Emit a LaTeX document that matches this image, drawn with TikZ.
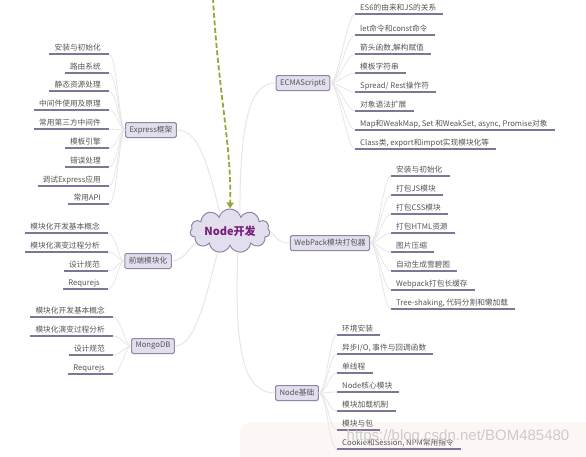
\documentclass[tikz,border=0pt]{standalone}
\usepackage{fontspec}
\setmainfont{Noto Sans CJK SC}
\newfontfamily\wmfont{Liberation Sans}
\usetikzlibrary{shapes.symbols,arrows.meta}
\definecolor{boxfill}{HTML}{E3DEEE}
\definecolor{boxline}{HTML}{8E86A6}
\definecolor{ulcol}{HTML}{7C7794}
\definecolor{txt}{HTML}{555555}
\definecolor{conn}{HTML}{EAE5E5}
\definecolor{arrowgreen}{HTML}{8FAA38}
\definecolor{nodepurple}{HTML}{76207A}
\definecolor{pinkbg}{HTML}{FCF6F5}

\newcommand{\LeafL}[5]{%
  \node[leafL] (#2) at (#3,#4) {#5};
  \draw[ul] ([xshift=-5pt]#2.south west) -- ([xshift=8pt]#2.south east);
  \draw[br] ([xshift=8pt]#2.south east) .. controls +(8,0) and +(-6,0) .. (#1.west);
}
\newcommand{\LeafR}[5]{%
  \node[leafR] (#2) at (#3,#4) {#5};
  \draw[ul] ([xshift=-5pt]#2.south west) -- ([xshift=7pt]#2.south east);
  \draw[br] (#1.east) .. controls +(8,0) and +(-8,0) .. ([xshift=-5pt]#2.south west);
}

\begin{document}
\begin{tikzpicture}[x=1pt,y=-1pt,
  font=\fontsize{7.7}{9}\selectfont,
  topic/.style={draw=boxline, fill=boxfill, line width=1pt, rounded corners=1.5pt,
    inner xsep=4pt, inner ysep=2pt, text=txt, minimum height=15pt},
  leafL/.style={anchor=south east, inner xsep=0pt, inner ysep=2pt,
    text height=6.5pt, text depth=1.5pt, text=txt},
  leafR/.style={anchor=south west, inner xsep=0pt, inner ysep=2pt,
    text height=6.5pt, text depth=1.5pt, text=txt},
  ul/.style={draw=ulcol, line width=1.2pt},
  br/.style={draw=conn, line width=0.8pt},
  main/.style={draw=conn, line width=1pt},
  central/.style={cloud, cloud puffs=11, aspect=2.6, draw=boxline, fill=boxfill,
    line width=1pt, inner sep=1pt, minimum width=80pt, minimum height=32pt,
    text=nodepurple, font=\fontsize{11}{12}\selectfont\bfseries}]
\useasboundingbox (0,0) rectangle (586,456);
\fill[white] (0,0) rectangle (586,456);
\fill[pinkbg, rounded corners=12pt] (240,422) rectangle (600,470);

% central node and topics
\node[central] (root) at (230,231) {Node开发};
\node[topic] (express) at (151,130) {Express框架};
\node[topic] (front) at (148,261) {前端模块化};
\node[topic] (mongo) at (153,346) {MongoDB};
\node[topic] (es6) at (303,83) {ECMAScript6};
\node[topic] (webpack) at (330,243) {WebPack模块打包器};
\node[topic] (nbase) at (297,393) {Node基础};

% main connectors
\draw[main] (root.120) .. controls (205,150) and (195,130) .. (express.east);
\draw[main] (root.60) .. controls (240,120) and (250,83) .. (es6.west);
\draw[main] (root.east) .. controls (275,236) and (278,243) .. (webpack.west);
\draw[main] (root.200) .. controls (190,245) and (185,261) .. (front.east);
\draw[main] (root.240) .. controls (205,300) and (195,346) .. (mongo.east);
\draw[main] (root.290) .. controls (235,340) and (240,393) .. (nbase.west);

% dashed green arrow
\coordinate (topin) at (213,-2);
\draw[arrowgreen, dashed, dash pattern=on 5pt off 2.5pt, line width=1.8pt,
  -{Triangle[length=6pt,width=7pt]}]
  (topin) .. controls (218,90) and (232,150) .. (root.north);

% Express leaves
\LeafL{express}{e1}{101}{54}{安装与初始化}
\LeafL{express}{e2}{101}{73}{路由系统}
\LeafL{express}{e3}{101}{91}{静态资源处理}
\LeafL{express}{e4}{101}{110}{中间件使用及原理}
\LeafL{express}{e5}{101}{129}{常用第三方中间件}
\LeafL{express}{e6}{101}{148}{模板引擎}
\LeafL{express}{e7}{101}{167}{错误处理}
\LeafL{express}{e8}{101}{186}{调试Express应用}
\LeafL{express}{e9}{101}{204}{常用API}

% Front-end modularization leaves
\LeafL{front}{f1}{100}{233}{模块化开发基本概念}
\LeafL{front}{f2}{100}{252}{模块化演变过程分析}
\LeafL{front}{f3}{100}{271}{设计规范}
\LeafL{front}{f4}{100}{289}{Requrejs}

% MongoDB leaves
\LeafL{mongo}{m1}{105}{317}{模块化开发基本概念}
\LeafL{mongo}{m2}{105}{336}{模块化演变过程分析}
\LeafL{mongo}{m3}{105}{355}{设计规范}
\LeafL{mongo}{m4}{105}{374}{Requrejs}

% ES6 leaves
\LeafR{es6}{s1}{360}{14}{ES6的由来和JS的关系}
\LeafR{es6}{s2}{360}{35}{let命令和const命令}
\LeafR{es6}{s3}{360}{54}{箭头函数,解构赋值}
\LeafR{es6}{s4}{360}{73}{模板字符串}
\LeafR{es6}{s5}{360}{92}{Spread/ Rest操作符}
\LeafR{es6}{s6}{360}{111}{对象语法扩展}
\LeafR{es6}{s7}{360}{130}{Map和WeakMap, Set 和WeakSet, async, Promise对象}
\LeafR{es6}{s8}{360}{149}{Class类, export和impot实现模块化等}

% WebPack leaves
\LeafR{webpack}{w1}{396}{176}{安装与初始化}
\LeafR{webpack}{w2}{396}{195}{打包JS模块}
\LeafR{webpack}{w3}{396}{214}{打包CSS模块}
\LeafR{webpack}{w4}{396}{233}{打包HTML资源}
\LeafR{webpack}{w5}{396}{252}{图片压缩}
\LeafR{webpack}{w6}{396}{271}{自动生成雪碧图}
\LeafR{webpack}{w7}{396}{290}{Webpack打包长缓存}
\LeafR{webpack}{w8}{396}{309}{Tree-shaking, 代码分割和懒加载}

% Node basics leaves
\LeafR{nbase}{n1}{342}{335}{环境安装}
\LeafR{nbase}{n2}{342}{354}{异步I/O, 事件与回调函数}
\LeafR{nbase}{n3}{342}{373}{单线程}
\LeafR{nbase}{n4}{342}{392}{Node核心模块}
\LeafR{nbase}{n5}{342}{411}{模块加载机制}
\LeafR{nbase}{n6}{342}{430}{模块与包}
\LeafR{nbase}{n7}{342}{449}{Cookie和Session, NPM常用指令}

% watermark
\node[text=black!20, font=\wmfont\fontsize{15}{15}\selectfont, inner sep=0pt] (wm) at (458,437) {https://blog.csdn.net/BOM485480};
\end{tikzpicture}
\end{document}
